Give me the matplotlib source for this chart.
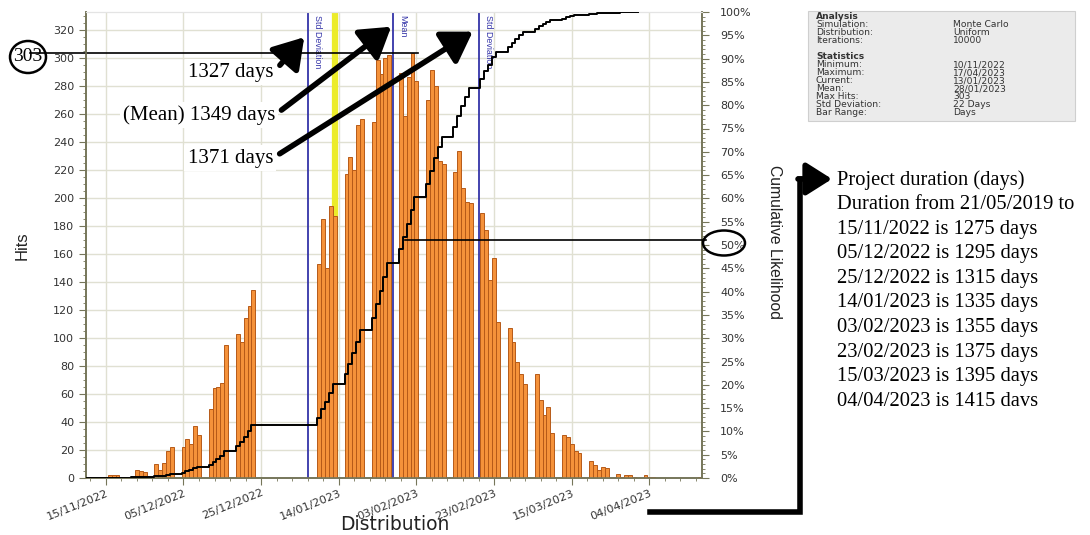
import numpy as np
import pandas as pd
import matplotlib
matplotlib.use('Agg')
import matplotlib.pyplot as plt
import matplotlib.dates as mdates
from matplotlib.patches import Ellipse, Rectangle
from matplotlib.lines import Line2D
from matplotlib.ticker import MultipleLocator, FixedLocator

# monte carlo finish date histogram - hits per working day (Mon..Fri)
week_start = ['2022-11-07', '2022-11-14', '2022-11-21', '2022-11-28', '2022-12-05',
              '2022-12-12', '2022-12-19', '2023-01-09', '2023-01-16', '2023-01-23',
              '2023-01-30', '2023-02-06', '2023-02-13', '2023-02-20', '2023-02-27',
              '2023-03-06', '2023-03-13', '2023-03-20', '2023-03-27', '2023-04-03',
              '2023-04-10', '2023-04-17']
week_hits = [[0, 0, 0, 1, 1], [0, 1, 2, 2, 2], [1, 1, 6, 5, 4], [10, 6, 11, 19, 22],
             [22, 28, 24, 37, 31], [49, 64, 65, 68, 95], [103, 97, 114, 123, 134],
             [153, 185, 150, 194, 187], [217, 229, 220, 252, 256], [254, 298, 288, 300, 302],
             [289, 258, 286, 303, 283], [270, 291, 280, 226, 224], [218, 233, 207, 197, 196],
             [189, 177, 141, 157, 111], [107, 97, 83, 74, 67], [74, 56, 45, 51, 32],
             [31, 29, 24, 19, 18], [12, 9, 6, 8, 7], [3, 1, 2, 2, 1], [2, 1, 1, 0, 0],
             [0, 0, 0, 0, 0], [1, 0, 0, 0, 0]]

first_day = '2022-11-10'
last_day = '2023-04-17'
tick_dates = ['2022-11-15', '2022-12-05', '2022-12-25', '2023-01-14',
              '2023-02-03', '2023-02-23', '2023-03-15', '2023-04-04']
mean_date = '2023-01-28'
std_days = 22
current_date = '2023-01-13'
max_hits = 303

stats_analysis = [('Simulation:', 'Monte Carlo'), ('Distribution:', 'Uniform'),
                  ('Iterations:', '10000')]
stats_statistics = [('Minimum:', '10/11/2022'), ('Maximum:', '17/04/2023'),
                    ('Current:', '13/01/2023'), ('Mean:', '28/01/2023'),
                    ('Max Hits:', '303'), ('Std Deviation:', '22 Days'),
                    ('Bar Range:', 'Days')]

note_lines = ['Project duration (days)', 'Duration from 21/05/2019 to',
              '15/11/2022 is 1275 days', '05/12/2022 is 1295 days',
              '25/12/2022 is 1315 days', '14/01/2023 is 1335 days',
              '03/02/2023 is 1355 days', '23/02/2023 is 1375 days',
              '15/03/2023 is 1395 days', '04/04/2023 is 1415 davs']
arrow_texts = ['1327 days', '(Mean) 1349 days', '1371 days']


def dnum(s):
    return mdates.date2num(pd.Timestamp(s).to_pydatetime())


# build daily arrays
days, hits = [], []
for ws, wh in zip(week_start, week_hits):
    for i, h in enumerate(wh):
        days.append(dnum(ws) + i)
        hits.append(h)
days = np.array(days)
hits = np.array(hits)

all_days = np.arange(days.min(), days.max() + 1)
daily = np.zeros(len(all_days))
daily[(days - all_days[0]).astype(int)] = hits
cum = np.cumsum(daily) / daily.sum() * 100

W, H = 1090, 535
fx = lambda px: px / W
fy = lambda py: 1 - py / H

fig = plt.figure(figsize=(W / 100, H / 100), dpi=100)
ax = fig.add_axes([fx(86), fy(478), (702 - 86) / W, (478 - 12) / H])
ax2 = ax.twinx()

axis_col = '#76765a'
txt_col = '#333333'
blue = '#3434a8'

mask = hits > 0
ax.bar(days[mask], hits[mask], width=1.0, color='#f5923a', edgecolor='#b65a18',
       linewidth=0.7, zorder=3)

# current date (yellow), mean and std deviation lines
ax.axvline(dnum(current_date) + 0.1, color='#ecec2a', lw=4.5, zorder=2)
m = dnum(mean_date)
for xv, lab in [(m - std_days, 'Std Deviation'), (m, 'Mean'), (m + std_days, 'Std Deviation')]:
    ax.axvline(xv, color=blue, lw=1.3, zorder=4)
    ax.annotate(lab, xy=(xv, 332), xytext=(4, -2), textcoords='offset points',
                rotation=-90, ha='left', va='top', color=blue, fontsize=6.4,
                family='Liberation Sans')

# curve stops once it has reached the top
keep = all_days <= dnum('2023-04-01')
ax2.plot(all_days[keep], cum[keep], drawstyle='steps-mid', color='black', lw=1.4, zorder=5)

ax.set_xlim(dnum(first_day) - 0.1, dnum(last_day) + 0.55)
ax.set_ylim(0, 332.5)
ax2.set_ylim(0, 100)

ax.xaxis.set_major_locator(FixedLocator([dnum(t) for t in tick_dates]))
ax.xaxis.set_minor_locator(FixedLocator(np.arange(dnum(tick_dates[0]) - 4, dnum(last_day) + 1, 4)))
ax.xaxis.set_major_formatter(mdates.DateFormatter('%d/%m/%Y'))
ax.yaxis.set_major_locator(MultipleLocator(20))
ax.yaxis.set_minor_locator(MultipleLocator(5))
ax2.yaxis.set_major_locator(MultipleLocator(5))
ax2.yaxis.set_minor_locator(MultipleLocator(1))
ax2.set_yticklabels(['%d%%' % v for v in ax2.get_yticks()])

ax.grid(True, which='major', color='#e0e0d2', lw=1.0, zorder=0)
ax.set_axisbelow(True)

for a in (ax, ax2):
    for s in ('left', 'bottom', 'right'):
        a.spines[s].set_color(axis_col)
        a.spines[s].set_linewidth(1.2)
    a.spines['top'].set_color('#e4e4e4')
    a.tick_params(which='major', length=5, color=axis_col, labelcolor=txt_col, labelsize=8)
    a.tick_params(which='minor', length=2.5, color=axis_col)

for lab in ax.get_xticklabels():
    lab.set_rotation(22)
    lab.set_ha('right')
    lab.set_rotation_mode('anchor')
    lab.set_fontsize(8.2)
ax.tick_params(axis='x', pad=2)
ax2.tick_params(axis='y', pad=8)

fig.text(fx(22), fy(246), 'Hits', rotation=90, ha='center', va='center', fontsize=12,
         family='Liberation Sans', color='#222222')
fig.text(fx(775), fy(242), 'Cumulative Likelihood', rotation=270, ha='center', va='center',
         fontsize=11.3, family='Liberation Sans', color='#222222')
fig.text(fx(395), fy(524), 'Distribution', ha='center', va='center', fontsize=13.5, color='#222222')

# max hits marker
ax.plot([dnum(first_day) - 14.5, dnum('2023-02-03') + 0.5], [max_hits, max_hits],
        color='black', lw=1.2, clip_on=False, zorder=6)
fig.text(fx(28), fy(57), str(max_hits), ha='center', va='center', fontsize=14,
         family='Liberation Serif')
fig.add_artist(Ellipse((fx(28), fy(57)), 36 / W, 32 / H, transform=fig.transFigure,
                       fill=False, lw=1.8, color='black'))

# 50% marker
ax2.plot([dnum('2023-01-31'), dnum(last_day) + 1.5], [51, 51], color='black', lw=1.2,
         clip_on=False, zorder=6)
fig.add_artist(Ellipse((fx(724), fy(243)), 42 / W, 25 / H, transform=fig.transFigure,
                       fill=False, lw=1.8, color='black'))

# arrows to std/mean lines
tips = [(m - std_days - 0.9, 314.5), (m - 0.5, 322), (m + std_days - 1.5, 318.5)]
text_pos = [(274, 72), (275, 115), (273, 158)]
for t, (tx, ty), tip in zip(arrow_texts, text_pos, tips):
    ax.annotate(t, xy=tip, xycoords='data', xytext=(tx, H - ty), textcoords='figure pixels',
                ha='right', va='center', fontsize=15, family='Liberation Serif',
                bbox=dict(boxstyle='square,pad=0.15', fc='white', ec='none'),
                arrowprops=dict(arrowstyle='-|>,head_length=0.6,head_width=0.38', lw=4,
                                color='black', relpos=(1.0, 0.5), shrinkA=3, shrinkB=0,
                                mutation_scale=30),
                zorder=8, annotation_clip=False)

# stats box
fig.add_artist(Rectangle((fx(808), fy(121)), 267 / W, 110 / H, transform=fig.transFigure,
                         fc='#ebebeb', ec='#cfcfcf', lw=0.8))
rows = [('Analysis', None)] + stats_analysis + [(None, None), ('Statistics', None)] + stats_statistics
for k, (lab, val) in enumerate(rows):
    yy = fy(16.5 + 8.0 * k)
    if lab is None:
        continue
    fig.text(fx(816), yy, lab, ha='left', va='center', fontsize=6.6, color=txt_col,
             fontweight='bold' if val is None else 'normal')
    if val is not None:
        fig.text(fx(953), yy, val, ha='left', va='center', fontsize=6.6, color=txt_col)

# elbow arrow to the notes
fig.add_artist(Line2D([fx(650), fx(800), fx(800)], [fy(512), fy(512), fy(179)],
                      transform=fig.transFigure, color='black', lw=4, solid_joinstyle='miter'))
ax.annotate('', xy=(832, H - 179), xycoords='figure pixels', xytext=(798, H - 179),
            textcoords='figure pixels',
            arrowprops=dict(arrowstyle='-|>,head_length=0.6,head_width=0.38', lw=4,
                            color='black', shrinkA=0, shrinkB=0, mutation_scale=26),
            annotation_clip=False)
for k, line in enumerate(note_lines):
    fig.text(fx(837), fy(180 + 24.6 * k), line, ha='left', va='center', fontsize=14.8,
             family='Liberation Serif')

fig.savefig('out.png', dpi=100)
